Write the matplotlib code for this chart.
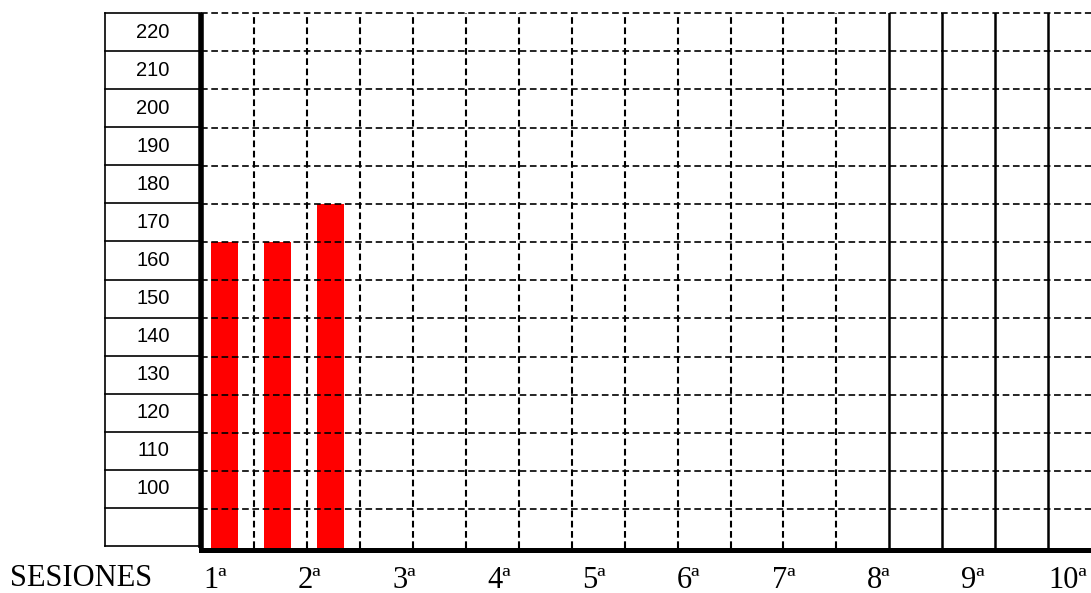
import matplotlib
matplotlib.use("Agg")
import matplotlib.pyplot as plt
import numpy as np

# ---- data ----
bar_values = [160, 160, 170]                 # sessions recorded (1st, 2nd, 3rd bars)
row_labels = ["220", "210", "200", "190", "180", "170", "160",
              "150", "140", "130", "120", "110", "100", ""]
row_tops = [220, 210, 200, 190, 180, 170, 160, 150, 140, 130, 120, 110, 100, 90]
session_labels = ["1ª", "2ª", "3ª", "4ª", "5ª", "6ª", "7ª", "8ª", "9ª", "10ª"]
session_pos = [1, 2, 3, 4, 5, 6, 7, 8, 9, 10]
axis_title = "SESIONES"

plt.rcParams['lines.scale_dashes'] = False

W, H = 1091, 593
fig = plt.figure(figsize=(W / 100, H / 100), dpi=100)

def fx(px):
    return px / W

def fy(py):
    return 1 - py / H

y_min, y_max = 80, 220
ax_left, ax_right = 201, 1091
ax_top, ax_bot = 13, 547.5
col_w = 52.95
x_max = (ax_right - ax_left) / col_w

# left label table (drawn first, transparent background)
t_left = 105
axt = fig.add_axes([fx(t_left), fy(546), fx(ax_left - t_left), (546 - ax_top) / H])
axt.set_xlim(0, 1)
axt.set_ylim(y_min, y_max)
axt.patch.set_visible(False)
for yv in row_tops + [y_min]:
    axt.axhline(yv, color="black", lw=1.2, clip_on=False)
axt.axvline(0, color="black", lw=1.2, clip_on=False)
for lab, top in zip(row_labels, row_tops):
    axt.text(0.5, top - 5, lab, ha="center", va="center", fontsize=14.5,
             family="Liberation Sans")
for s in axt.spines.values():
    s.set_visible(False)
axt.set_xticks([])
axt.set_yticks([])

ax = fig.add_axes([fx(ax_left), fy(ax_bot), fx(ax_right - ax_left), (ax_bot - ax_top) / H])
ax.set_xlim(0, x_max)
ax.set_ylim(y_min, y_max)
ax.patch.set_visible(False)

dash = (0, (4.8, 2.6))
# horizontal dashed grid
for yv in row_tops:
    ax.axhline(yv, color="black", lw=1.2, linestyle=dash, zorder=3, clip_on=False)
# vertical grid: first 12 dashed, then solid
for k in range(1, int(x_max) + 1):
    if k <= 12:
        ax.axvline(k, color="black", lw=1.5, linestyle=dash, zorder=3)
    else:
        ax.axvline(k, color="black", lw=1.8, linestyle="-", zorder=3)

# bars
xb = np.arange(len(bar_values)) + 0.45
ax.bar(xb, bar_values, width=0.51, color="#ff0000", zorder=2)

for s in ["top", "right"]:
    ax.spines[s].set_visible(False)
ax.spines["left"].set_linewidth(4.0)
ax.spines["bottom"].set_linewidth(3.6)
ax.spines["bottom"].set_position(("outward", 1.8))
ax.spines["left"].set_capstyle("butt")
ax.spines["left"].set_zorder(5)
ax.spines["bottom"].set_zorder(5)
ax.set_xticks([])
ax.set_yticks([])

# sessions axis (label row)
p1, p10 = 215, 1068
slope = (p10 - p1) / 9
s_lo = 1 + (ax_left - p1) / slope
s_hi = 1 + (ax_right - p1) / slope
axs = fig.add_axes([fx(ax_left), fy(ax_bot), fx(ax_right - ax_left), (ax_bot - ax_top) / H])
axs.set_xlim(s_lo, s_hi)
axs.set_ylim(0, 1)
axs.patch.set_visible(False)
for s in axs.spines.values():
    s.set_visible(False)
axs.set_yticks([])
axs.set_xticks(session_pos)
axs.set_xticklabels(session_labels, fontsize=22, family="Liberation Serif")
axs.tick_params(axis="x", length=0, pad=13)

fig.text(fx(10), fy(578), axis_title, fontsize=22, family="Liberation Serif",
         ha="left", va="center")

fig.savefig("out.png", dpi=100)
